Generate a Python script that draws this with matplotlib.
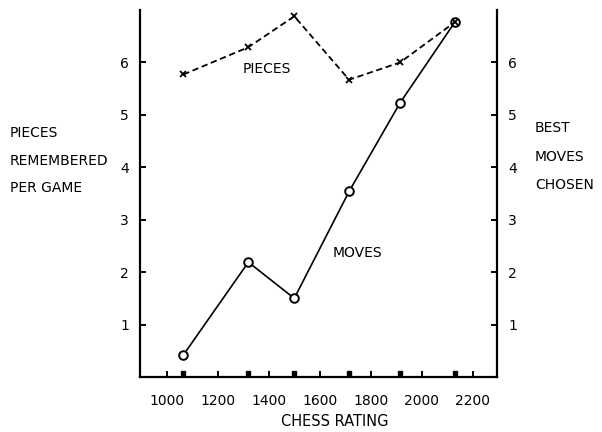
import matplotlib
matplotlib.use("Agg")
import matplotlib.pyplot as plt

# Data
ratings = [1065, 1320, 1500, 1715, 1915, 2130]
pieces = [5.77, 6.29, 6.88, 5.67, 6.00, 6.77]
moves = [0.42, 2.19, 1.50, 3.54, 5.23, 6.77]
baseline = [0.08, 0.08, 0.08, 0.08, 0.08, 0.08]
xticks = [1000, 1200, 1400, 1600, 1800, 2000, 2200]
yticks = [1, 2, 3, 4, 5, 6]

plt.rcParams['font.family'] = ['DejaVu Sans']

fig = plt.figure(figsize=(6.02, 4.32), dpi=100)
ax = fig.add_axes([140/602, 1-377/432, (497-140)/602, (377-10)/432])

ax.plot(ratings, pieces, color='black', lw=1.3, ls=(0, (3.5, 2)),
        marker='x', ms=4.5, mew=1.3, zorder=3)
ax.plot(ratings, moves, color='black', lw=1.2, marker='o', ms=6.2,
        mfc='white', mec='black', mew=1.4, zorder=2)
ax.plot(ratings, baseline, ls='none', marker='s', ms=3, color='black')

ax.set_xlim(895, 2295)
ax.set_ylim(0, 7.0)
ax.set_xticks(xticks)
ax.set_xticklabels([str(v) for v in xticks])
ax.set_yticks(yticks)
ax.set_yticklabels([str(v) for v in yticks])

ax.spines['top'].set_visible(False)
for s in ['left', 'right', 'bottom']:
    ax.spines[s].set_linewidth(1.6)

ax.tick_params(axis='y', which='both', direction='in', length=4, width=1.4,
               labelsize=10, pad=6, left=True, right=True,
               labelleft=True, labelright=True)
ax.tick_params(axis='y', which='both', labelright=True, pad=8)
ax.tick_params(axis='x', direction='in', length=4, width=1.4,
               labelsize=10, pad=12)

ax.text(1392, 5.87, 'PIECES', ha='center', va='center', fontsize=10)
ax.text(1749, 2.37, 'MOVES', ha='center', va='center', fontsize=10)

fig.text(335/602, 1-421/432, 'CHESS RATING', ha='center', va='center', fontsize=10.5)
for txt, yy in [('PIECES', 133), ('REMEMBERED', 161), ('PER GAME', 188)]:
    fig.text(10/602, 1-yy/432, txt, ha='left', va='center', fontsize=10)
for txt, yy in [('BEST', 128), ('MOVES', 157), ('CHOSEN', 185)]:
    fig.text(535/602, 1-yy/432, txt, ha='left', va='center', fontsize=10)

fig.savefig('out.png', dpi=100)
